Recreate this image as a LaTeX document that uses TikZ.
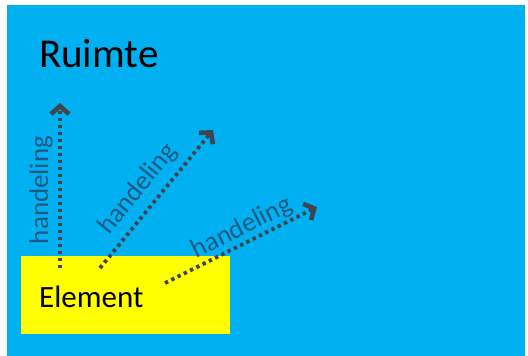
\documentclass[tikz,border=0pt]{standalone}
\usepackage{fontspec}
\setmainfont{Carlito}
\usetikzlibrary{arrows.meta}
\definecolor{skyblue}{HTML}{00B0F0}
\definecolor{elemyellow}{HTML}{FFFF00}
\definecolor{arrowgray}{HTML}{3F4550}
\definecolor{labelblue}{HTML}{1F5A85}
\tikzset{
  actline/.style={draw=arrowgray, line width=3.8pt, dash pattern=on 3.4pt off 3.6pt,
    -{Straight Barb[length=8pt,width=18pt,line width=4.6pt]}},
  actlabel/.style={text=labelblue, font=\fontsize{27}{27}\selectfont, inner sep=0pt},
}
\begin{document}
\begin{tikzpicture}[x=1pt,y=-1pt]
\useasboundingbox (0,0) rectangle (528,356);
\fill[white] (0,0) rectangle (528,356);
\fill[skyblue] (7,5) rectangle (525,356);
\node[fill=elemyellow, inner sep=0pt, minimum width=209pt, minimum height=78pt, anchor=north west] (elembox) at (21,256) {};
\node[anchor=base west, inner sep=0pt, font=\fontsize{41}{41}\selectfont] (ruimte) at (39,67) {Ruimte};
\node[anchor=base west, inner sep=0pt, font=\fontsize{31}{31}\selectfont] (elemtext) at (39,307) {Element};
\coordinate (s1) at (60,268);
\coordinate (e1) at (60,103);
\coordinate (s2) at (100,268);
\coordinate (e2) at (213,130);
\coordinate (s3) at (165,283);
\coordinate (e3) at (317,207);
\draw[actline] (s1) -- (e1);
\draw[actline] (s2) -- (e2);
\draw[actline] (s3) -- (e3);
\node[actlabel, rotate=90] (l1) at (41,190) {handeling};
\node[actlabel, rotate=50.8] (l2) at (138,189) {handeling};
\node[actlabel, rotate=26.7] (l3) at (242,228) {handeling};
\end{tikzpicture}
\end{document}
